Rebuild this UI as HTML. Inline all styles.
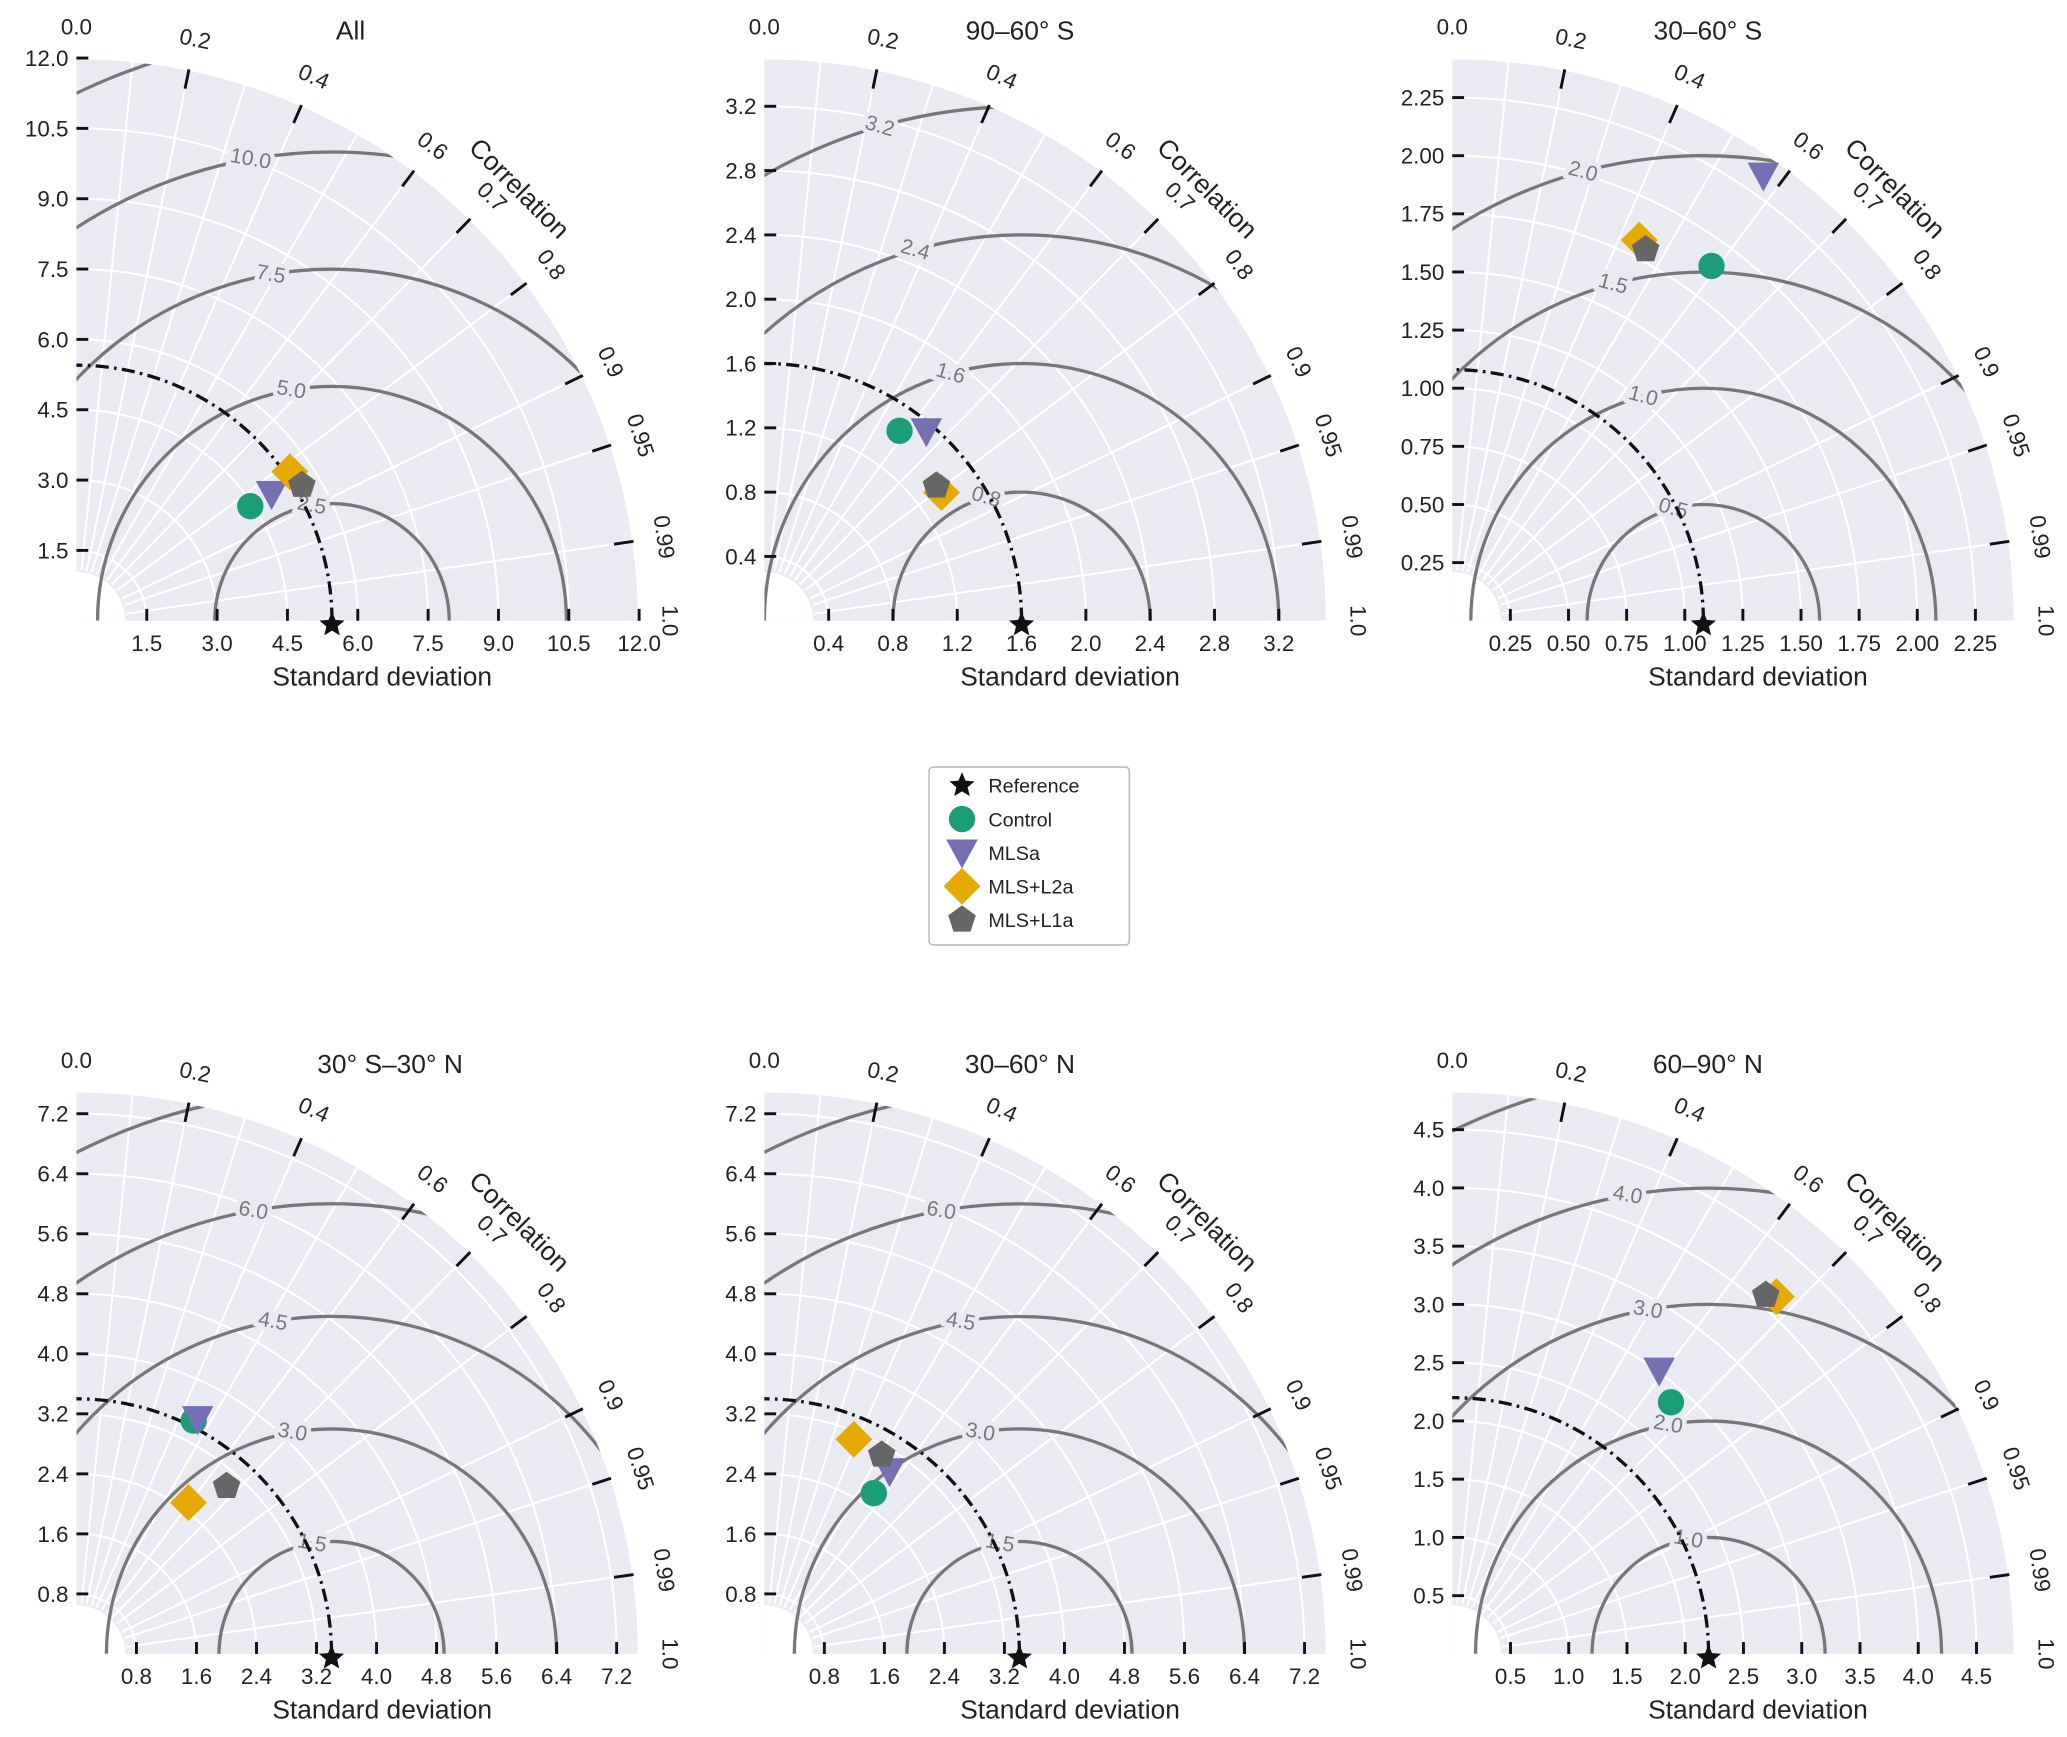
<!DOCTYPE html>
<html><head><meta charset="utf-8"><style>
html,body{margin:0;padding:0;background:#fff;}
svg{display:block;font-family:"Liberation Sans",sans-serif;}
</style></head><body>
<svg id="fig" width="2067" height="1737" viewBox="0 0 1568.5 1318" xmlns="http://www.w3.org/2000/svg"></svg>
<script>
// ---- data ----
const panelTitles = ["All","90\u201360\u00b0 S","30\u201360\u00b0 S","30\u00b0 S\u201330\u00b0 N","30\u201360\u00b0 N","60\u201390\u00b0 N"];
const stdMax = [12, 3.5, 2.42, 7.5, 7.5, 4.83];
const stdTicks = [
 [1.5,3.0,4.5,6.0,7.5,9.0,10.5,12.0],
 [0.4,0.8,1.2,1.6,2.0,2.4,2.8,3.2],
 [0.25,0.5,0.75,1.0,1.25,1.5,1.75,2.0,2.25],
 [0.8,1.6,2.4,3.2,4.0,4.8,5.6,6.4,7.2],
 [0.8,1.6,2.4,3.2,4.0,4.8,5.6,6.4,7.2],
 [0.5,1.0,1.5,2.0,2.5,3.0,3.5,4.0,4.5]];
const tickDecimals = [1,1,2,1,1,1];
const refStd = [5.45, 1.6, 1.08, 3.4, 3.4, 2.2];
const rmsLevels = [
 [2.5,5.0,7.5,10.0,12.5],
 [0.8,1.6,2.4,3.2],
 [0.5,1.0,1.5,2.0],
 [1.5,3.0,4.5,6.0,7.5],
 [1.5,3.0,4.5,6.0,7.5],
 [1.0,2.0,3.0,4.0,5.0]];
const rmsLabelAngle = [100,106,105,100,100,100];
const controlStd = [4.44,1.45,1.89,3.48,2.593,2.862];
const controlCorr = [0.835,0.58,0.59,0.449,0.563,0.656];
const mlsaStd = [4.96,1.55,2.335,3.52,2.95,3.01];
const mlsaCorr = [0.839,0.65,0.573,0.459,0.566,0.59];
const l2aStd = [5.55,1.36,1.824,2.51,3.10,4.14];
const l2aCorr = [0.82,0.81,0.441,0.595,0.385,0.672];
const l1aStd = [5.61,1.36,1.80,3.0,3.08,4.09];
const l1aCorr = [0.857,0.787,0.462,0.667,0.508,0.658];
const corrGrid = [0.1,0.2,0.3,0.4,0.5,0.6,0.7,0.8,0.9,0.95,0.99];
const corrLabels = [0.0,0.2,0.4,0.6,0.7,0.8,0.9,0.95,0.99,1.0];
const seriesNames = ["Control","MLSa","MLS+L2a","MLS+L1a"];
const seriesColors = ["#1b9e77","#7570b3","#e6ab02","#666666"];

const NS="http://www.w3.org/2000/svg";
const svg=document.getElementById('fig');
function el(tag,attrs,parent){const e=document.createElementNS(NS,tag);for(const k in attrs)e.setAttribute(k,attrs[k]);(parent||svg).appendChild(e);return e;}
const origins=[[58,471],[580,471],[1102,471],[58,1255],[580,1255],[1102,1255]];
const R=427;

function marker(g,kind,cx,cy,color){
  let m;
  if(kind==="Control"){m=el('circle',{cx:cx,cy:cy,r:10,fill:color},g);}
  else if(kind==="MLSa"){m=el('polygon',{points:`${cx-12},${cy-10} ${cx+12},${cy-10} ${cx},${cy+12}`,fill:color},g);}
  else if(kind==="MLS+L2a"){m=el('polygon',{points:`${cx},${cy-14} ${cx+14},${cy} ${cx},${cy+14} ${cx-14},${cy}`,fill:color},g);}
  else if(kind==="MLS+L1a"){let p=[];for(let i=0;i<5;i++){const a=-Math.PI/2+i*2*Math.PI/5;p.push((cx+11*Math.cos(a))+","+(cy+11*Math.sin(a)));}m=el('polygon',{points:p.join(' '),fill:color},g);}
  else {let p=[];for(let i=0;i<10;i++){const a=-Math.PI/2+i*Math.PI/5;const rr=i%2?4.5:10;p.push((cx+rr*Math.cos(a))+","+(cy+rr*Math.sin(a)));}m=el('polygon',{points:p.join(' '),fill:color},g);}
  return m;
}

for(let p=0;p<6;p++){
  const [ox,oy]=origins[p];
  const k=R/stdMax[p];
  const X=(s,c)=>ox+s*k*c;
  const Y=(s,c)=>oy-s*k*Math.sqrt(Math.max(0,1-c*c));
  const g=el('g',{});
  
  
  const cid='clip'+p;
  const cp=el('clipPath',{id:cid},g);
  el('path',{d:`M${ox},${oy} L${ox+R},${oy} A${R},${R} 0 0 0 ${ox},${oy-R} Z`},cp);
  const bg=el('path',{d:`M${ox},${oy} L${ox+R},${oy} A${R},${R} 0 0 0 ${ox},${oy-R} Z`,fill:'#EAEAF2'},g);
  
  
  // std grid circles
  stdTicks[p].forEach(t=>{
    const r=t*k;
    el('path',{d:`M${ox+r},${oy} A${r},${r} 0 0 0 ${ox},${oy-r}`,fill:'none',stroke:'#fff','stroke-width':1.5},g);
  });
  // corr grid lines
  corrGrid.forEach(c=>{
    el('line',{x1:X(0.09*stdMax[p],c),y1:Y(0.09*stdMax[p],c),x2:X(stdMax[p],c),y2:Y(stdMax[p],c),stroke:'#fff','stroke-width':1.5},g);
  });
  // inner cutout
  const r0=37;
  el('path',{d:`M${ox},${oy} L${ox+r0},${oy} A${r0},${r0} 0 0 0 ${ox},${oy-r0} Z`,fill:'#fff'},g);
  // RMS contours
  const refX=ox+refStd[p]*k;
  const cg=el('g',{'clip-path':`url(#${cid})`},g);
  rmsLevels[p].forEach(lv=>{
    const r=lv*k;
    const arc=el('path',{d:`M${refX+r},${oy} A${r},${r} 0 0 0 ${refX-r},${oy}`,fill:'none',stroke:'#777','stroke-width':2.5},cg);
    
    
    const a=rmsLabelAngle[p]*Math.PI/180;
    const lx=refX+r*Math.cos(a), ly=oy-r*Math.sin(a);
    if(lx>ox+10 && ly>oy-R+10 && Math.hypot(lx-ox,ly-oy)<R-10){
      const t=el('text',{x:lx,y:ly,'font-size':16,fill:'#777','text-anchor':'middle','dominant-baseline':'central',stroke:'#EAEAF2','stroke-width':7,'paint-order':'stroke',transform:`rotate(${rmsLabelAngle[p]-90} ${lx} ${ly})`},g);
      t.textContent=lv.toFixed(1);
      
      
    }
  });
  // outer arc edge
  el('path',{d:`M${ox+R},${oy} A${R},${R} 0 0 0 ${ox},${oy-R}`,fill:'none',stroke:'#fff','stroke-width':2},g);
  // reference std arc
  const rr=refStd[p]*k;
  const ra=el('path',{d:`M${ox+rr},${oy} A${rr},${rr} 0 0 0 ${ox},${oy-rr}`,fill:'none',stroke:'#111','stroke-width':2.5,'stroke-dasharray':'10 4 2 4'},g);
  
  
  // axes ticks
  stdTicks[p].forEach(t=>{
    const x=ox+t*k;
    el('line',{x1:x,y1:oy,x2:x,y2:oy-9,stroke:'#111','stroke-width':2.2},g);
    const tx=el('text',{x:x,y:oy+23,'font-size':17,'text-anchor':'middle',fill:'#222'},g);
    tx.textContent=t.toFixed(tickDecimals[p]);
    
    
    const y=oy-t*k;
    el('line',{x1:ox,y1:y,x2:ox+9,y2:y,stroke:'#111','stroke-width':2.2},g);
    const ty=el('text',{x:ox-6,y:y+6,'font-size':17,'text-anchor':'end',fill:'#222'},g);
    ty.textContent=t.toFixed(tickDecimals[p]);
    
    
  });
  // corr ticks & labels
  corrLabels.forEach(c=>{
    const th=Math.acos(c);
    const cs=Math.cos(th), sn=Math.sin(th);
    if(c>0 && c<1) el('line',{x1:ox+R*0.965*cs,y1:oy-R*0.965*sn,x2:ox+R*cs,y2:oy-R*sn,stroke:'#111','stroke-width':2.2},g);
    const lr=R*1.055;
    const lx=ox+lr*cs, ly=oy-lr*sn;
    const rot=90-th*180/Math.PI;
    const t=el('text',{x:lx,y:ly,'font-size':17,'text-anchor':'middle','dominant-baseline':'central',fill:'#222',transform:`rotate(${rot} ${lx} ${ly})`},g);
    t.textContent=(c===0||c===1)?c.toFixed(1):String(c);
    
    
  });
  // Correlation title
  const cr=R*1.1, ca=Math.PI/4;
  const cx=ox+cr*Math.cos(ca)+4, cy=oy-cr*Math.sin(ca)+4;
  const ct=el('text',{x:cx,y:cy,'font-size':20,'text-anchor':'middle','dominant-baseline':'central',fill:'#222',transform:`rotate(45 ${cx} ${cy})`},g);
  ct.textContent='Correlation';
  
  
  // x title
  const xt=el('text',{x:ox+232,y:oy+49,'font-size':20,'text-anchor':'middle',fill:'#222'},g);
  xt.textContent='Standard deviation';
  
  
  // panel title
  const pt=el('text',{x:ox+(p%3===0&&p>2?238:p%3===0?208:194),y:oy-441,'font-size':20,'text-anchor':'middle',fill:'#222'},g);
  pt.textContent=panelTitles[p];
  
  
  // reference star
  const sg=el('g',{},g);
  const star=marker(sg,'Reference',refX,oy+3,'#111');
  
  
  // series points
  const stds=[controlStd,mlsaStd,l2aStd,l1aStd];
  const corrs=[controlCorr,mlsaCorr,l2aCorr,l1aCorr];
  for(let s=0;s<4;s++){
    const sd=stds[s][p], c=corrs[s][p];
    const m=marker(g,seriesNames[s],X(sd,c),Y(sd,c),seriesColors[s]);
    
    
  }
}
// legend
const lg=el('g',{});


el('rect',{x:705,y:582,width:152,height:135,fill:'#fff',stroke:'#bbb','stroke-width':1.2,rx:3},lg);
const legNames=["Reference"].concat(seriesNames);
const legColors=["#111"].concat(seriesColors);
legNames.forEach((n,i)=>{
  const y=596+i*25.5;
  const m=marker(lg,n,730,y,legColors[i]);
  
  
  const t=el('text',{x:750,y:y+5.5,'font-size':15,fill:'#222'},lg);
  t.textContent=n;
  
  
});
</script>
</body></html>
